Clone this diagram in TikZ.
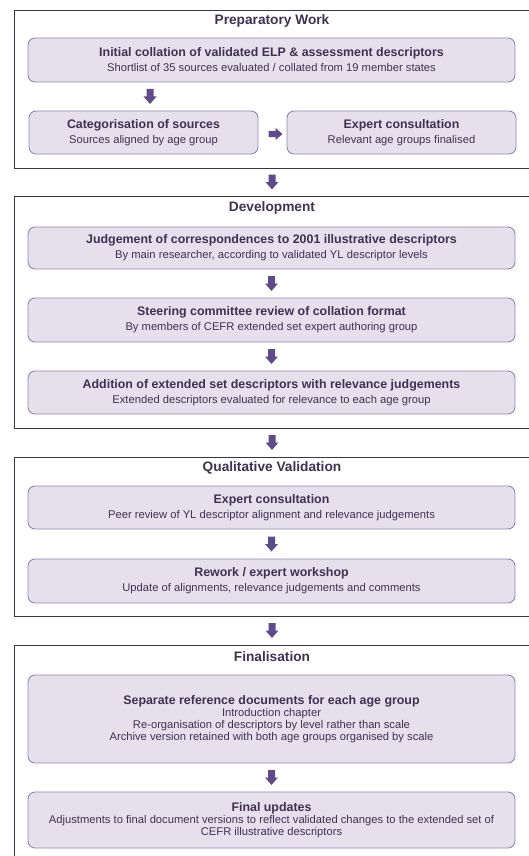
\documentclass[tikz,border=0pt]{standalone}
\usepackage{fontspec}
\setmainfont{Liberation Sans}
\usetikzlibrary{calc}
\definecolor{txt}{HTML}{403152}
\definecolor{boxfill}{HTML}{E5E0EC}
\definecolor{boxline}{HTML}{9286AE}
\definecolor{arr}{HTML}{5F4B8B}
\definecolor{frameline}{HTML}{3A3545}
\newcommand{\myhd}[1]{{\fontsize{12.4}{14}\selectfont\bfseries #1}}
\newcommand{\mysb}{\fontsize{11.2}{13.8}\selectfont}
\begin{document}
\begin{tikzpicture}[x=1pt,y=-1pt,
  frame/.style={draw=frameline, line width=0.9pt, inner sep=0pt},
  stepbox/.style={draw=boxline, fill=boxfill, line width=0.9pt, rounded corners=7pt,
    text=txt, align=center, inner sep=0pt},
  phase/.style={text=txt, inner sep=0pt, font=\fontsize{13.7}{15}\selectfont\bfseries},
  pics/dnarrow/.style={code={\fill[arr] (-3.5,-7.5) -- (3.5,-7.5) -- (3.5,0) -- (6.5,0) -- (0,7.5) -- (-6.5,0) -- (-3.5,0) -- cycle;}},
  pics/rtarrow/.style={code={\fill[arr] (-7,-3.2) -- (0,-3.2) -- (0,-6) -- (7,0) -- (0,6) -- (0,3.2) -- (-7,3.2) -- cycle;}}
]
\useasboundingbox (0,0) rectangle (529,856);

% frames
\node[frame, minimum width=531pt, minimum height=158pt] (f1) at (279.5,89) {};
\node[frame, minimum width=531pt, minimum height=232pt] (f2) at (279.5,312) {};
\node[frame, minimum width=531pt, minimum height=159pt] (f3) at (279.5,536.5) {};
\node[frame, minimum width=531pt, minimum height=225pt] (f4) at (279.5,757.5) {};

% titles
\node[phase] (t1) at (272,21) {Preparatory Work};
\node[phase] (t2) at (272,208) {Development};
\node[phase] (t3) at (272,467.5) {Qualitative Validation};
\node[phase] (t4) at (272,657) {Finalisation};

% frame 1
\node[stepbox, minimum width=487pt, minimum height=44pt] (p1) at (271.5,60)
  {\myhd{Initial collation of validated ELP \& assessment descriptors}\\[3pt]
   \mysb Shortlist of 35 sources evaluated / collated from 19 member states};
\node[stepbox, minimum width=229pt, minimum height=43pt] (p2) at (143.5,132.5)
  {\myhd{Categorisation of sources}\\[3pt]\mysb Sources aligned by age group};
\node[stepbox, minimum width=229pt, minimum height=43pt] (p3) at (401.5,132.5)
  {\myhd{Expert consultation}\\[3pt]\mysb Relevant age groups finalised};

% frame 2
\node[stepbox, minimum width=487pt, minimum height=42pt] (d1) at (271.5,248)
  {\myhd{Judgement of correspondences to 2001 illustrative descriptors}\\[3pt]
   \mysb By main researcher, according to validated YL descriptor levels};
\node[stepbox, minimum width=487pt, minimum height=44pt] (d2) at (271.5,320)
  {\myhd{Steering committee review of collation format}\\[3pt]
   \mysb By members of CEFR extended set expert authoring group};
\node[stepbox, minimum width=487pt, minimum height=43pt] (d3) at (271.5,392.5)
  {\myhd{Addition of extended set descriptors with relevance judgements}\\[3pt]
   \mysb Extended descriptors evaluated for relevance to each age group};

% frame 3
\node[stepbox, minimum width=487pt, minimum height=43pt] (q1) at (271.5,507.5)
  {\myhd{Expert consultation}\\[3pt]
   \mysb Peer review of YL descriptor alignment and relevance judgements};
\node[stepbox, minimum width=487pt, minimum height=44pt] (q2) at (271.5,581)
  {\myhd{Rework / expert workshop}\\[3pt]
   \mysb Update of alignments, relevance judgements and comments};

% frame 4
\node[stepbox, minimum width=487pt, minimum height=88pt] (n1) at (271.5,719)
  {\myhd{Separate reference documents for each age group}\\
   \mysb Introduction chapter\\
   \mysb Re-organisation of descriptors by level rather than scale\\
   \mysb Archive version retained with both age groups organised by scale};
\node[stepbox, minimum width=487pt, minimum height=56pt] (n2) at (271.5,820)
  {\myhd{Final updates}\\
   \mysb Adjustments to final document versions to reflect validated changes to the extended set of\\
   \mysb CEFR illustrative descriptors};

% arrows inside frames
\coordinate (a1) at ($(150,0 |- p1.south)!0.5!(150,0 |- p2.north)$);
\coordinate (a2) at ($(p2.east)!0.5!(p3.west)+(3,1.5)$);
\coordinate (a3) at ($(d1.south)!0.5!(d2.north)$);
\coordinate (a4) at ($(d2.south)!0.5!(d3.north)$);
\coordinate (a5) at ($(q1.south)!0.5!(q2.north)$);
\coordinate (a6) at ($(n1.south)!0.5!(n2.north)$);
\pic at (a1) {dnarrow};
\pic at (a2) {rtarrow};
\pic at (a3) {dnarrow};
\pic at (a4) {dnarrow};
\pic at (a5) {dnarrow};
\pic at (a6) {dnarrow};

% arrows between frames
\coordinate (b1) at ($(t1.south |- f1.south)!0.5!(t1.south |- f2.north)$);
\coordinate (b2) at ($(t1.south |- f2.south)!0.5!(t1.south |- f3.north)$);
\coordinate (b3) at ($(t1.south |- f3.south)!0.5!(t1.south |- f4.north)$);
\pic at (b1) {dnarrow};
\pic at (b2) {dnarrow};
\pic at (b3) {dnarrow};
\end{tikzpicture}
\end{document}
